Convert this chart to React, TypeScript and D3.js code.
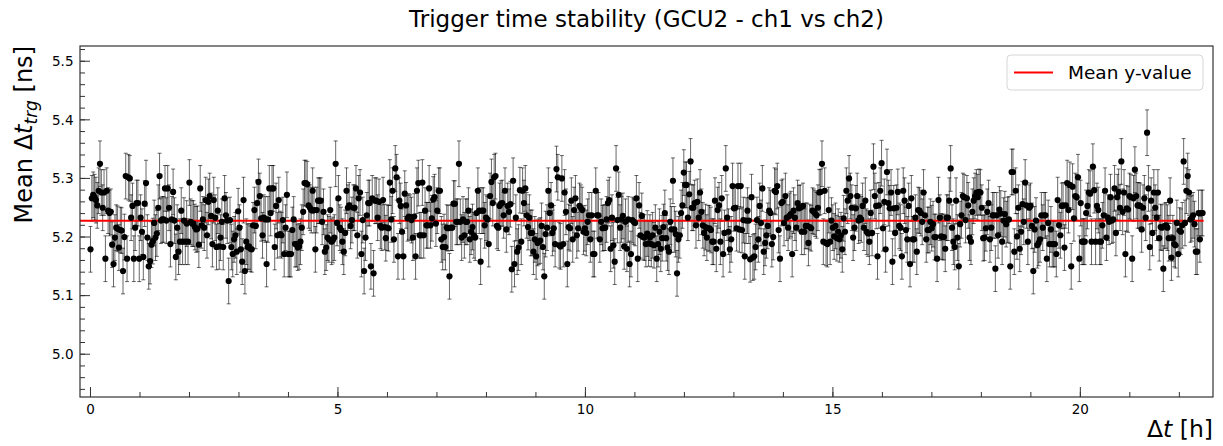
import React from "react";
import * as d3 from "d3";

// Mean trigger time difference per time slice (ns), in acquisition order.
const seg0 = [5.179, 5.266, 5.272, 5.268, 5.263, 5.254, 5.279, 5.325, 5.276, 5.250, 5.276, 5.163, 5.279, 5.245, 5.241, 5.243, 5.187, 5.154, 5.199, 5.216, 5.214, 5.182, 5.212, 5.211, 5.142, 5.200, 5.304, 5.163, 5.302, 5.300, 5.233, 5.253, 5.163, 5.216, 5.258, 5.258, 5.163, 5.233, 5.209, 5.166, 5.257, 5.292, 5.199, 5.150, 5.159, 5.187, 5.193, 5.224, 5.199, 5.206, 5.250, 5.304, 5.228, 5.230, 5.230, 5.283, 5.228, 5.283, 5.250, 5.188, 5.230, 5.277, 5.228, 5.166, 5.216, 5.175, 5.192, 5.245, 5.192, 5.228, 5.192, 5.223, 5.192, 5.293, 5.226, 5.223, 5.223, 5.217, 5.213, 5.214, 5.187, 5.283, 5.220, 5.230, 5.216, 5.263, 5.203, 5.260, 5.270, 5.236, 5.188, 5.263, 5.233, 5.183, 5.245, 5.184, 5.199, 5.226, 5.183, 5.266, 5.237, 5.228, 5.125, 5.229, 5.183, 5.171, 5.196, 5.203, 5.175, 5.244, 5.216];
const seg1 = [5.179, 5.158, 5.263, 5.142, 5.192, 5.183, 5.184, 5.180, 5.179, 5.220, 5.246, 5.219, 5.258, 5.294, 5.270, 5.232, 5.203, 5.233, 5.230, 5.154, 5.230, 5.283, 5.241, 5.283, 5.283, 5.183, 5.253, 5.203, 5.263, 5.205, 5.203, 5.229, 5.171, 5.216, 5.272, 5.171, 5.171, 5.171, 5.212, 5.230, 5.188, 5.188, 5.182, 5.184, 5.192, 5.216, 5.243, 5.292, 5.292, 5.290, 5.254, 5.250, 5.246, 5.279, 5.246, 5.179, 5.246, 5.262, 5.262, 5.262, 5.226, 5.243, 5.175, 5.182, 5.199, 5.196, 5.246, 5.192, 5.195, 5.199, 5.325, 5.224, 5.266, 5.216, 5.212, 5.192, 5.175, 5.207, 5.279, 5.250, 5.254, 5.219, 5.229, 5.250, 5.250, 5.283, 5.203, 5.266, 5.276, 5.171, 5.229, 5.142, 5.199, 5.237, 5.258, 5.258, 5.150, 5.266, 5.138, 5.262, 5.262, 5.233, 5.260, 5.219, 5.216, 5.263, 5.217, 5.198, 5.216, 5.215, 5.293, 5.230, 5.279, 5.196, 5.317, 5.302, 5.167, 5.262];
const seg2 = [5.253, 5.209, 5.167, 5.274, 5.254, 5.232, 5.235, 5.233, 5.229, 5.199, 5.235, 5.167, 5.279, 5.292, 5.203, 5.203, 5.293, 5.203, 5.245, 5.220, 5.220, 5.283, 5.220, 5.232, 5.264, 5.268, 5.223, 5.245, 5.279, 5.279, 5.196, 5.183, 5.200, 5.183, 5.216, 5.215, 5.133, 5.216, 5.216, 5.257, 5.257, 5.226, 5.226, 5.325, 5.226, 5.199, 5.230, 5.203, 5.226, 5.226, 5.245, 5.196, 5.209, 5.217, 5.203, 5.199, 5.241, 5.279, 5.245, 5.158, 5.245, 5.245, 5.220, 5.233, 5.230, 5.188, 5.270, 5.294, 5.258, 5.302, 5.304, 5.219, 5.216, 5.253, 5.257, 5.258, 5.237, 5.279, 5.213, 5.253, 5.243, 5.256, 5.145, 5.296, 5.154, 5.233, 5.175, 5.182, 5.280, 5.192, 5.279, 5.258, 5.283, 5.237, 5.217, 5.233, 5.207, 5.207, 5.175, 5.196, 5.167, 5.190, 5.192, 5.194, 5.219, 5.183, 5.133, 5.205, 5.216, 5.279, 5.241, 5.254, 5.207, 5.215, 5.188, 5.316, 5.302, 5.186, 5.184];
const seg3 = [5.300, 5.188, 5.276, 5.243, 5.154, 5.217, 5.215, 5.262, 5.196, 5.246, 5.266, 5.203, 5.215, 5.253, 5.250, 5.246, 5.209, 5.215, 5.207, 5.226, 5.237, 5.196, 5.237, 5.171, 5.171, 5.279, 5.237, 5.237, 5.196, 5.226, 5.215, 5.216, 5.216, 5.230, 5.258, 5.263, 5.180, 5.233, 5.186, 5.158, 5.317, 5.229, 5.272, 5.216, 5.230, 5.236, 5.184, 5.226, 5.180, 5.230, 5.154, 5.171, 5.229, 5.226, 5.224, 5.266, 5.163, 5.254, 5.203, 5.236, 5.200, 5.199, 5.188, 5.206, 5.189, 5.199, 5.188, 5.203, 5.186, 5.216, 5.163, 5.188, 5.209, 5.180, 5.198, 5.217, 5.241, 5.198, 5.182, 5.175, 5.226, 5.213, 5.296, 5.213, 5.205, 5.138, 5.196, 5.203, 5.241, 5.254, 5.310, 5.289, 5.289, 5.233, 5.273, 5.329, 5.250, 5.250, 5.258, 5.220, 5.260, 5.233, 5.276, 5.243, 5.220, 5.207, 5.217, 5.199, 5.215, 5.215, 5.212, 5.192, 5.192, 5.262, 5.180, 5.246, 5.254, 5.192, 5.266, 5.171];
const seg4 = [5.207, 5.317, 5.233, 5.209, 5.179, 5.196, 5.287, 5.249, 5.250, 5.215, 5.287, 5.213, 5.287, 5.212, 5.229, 5.167, 5.228, 5.245, 5.228, 5.162, 5.268, 5.165, 5.167, 5.183, 5.229, 5.196, 5.253, 5.224, 5.283, 5.175, 5.190, 5.203, 5.219, 5.245, 5.241, 5.188, 5.200, 5.279, 5.277, 5.287, 5.212, 5.163, 5.258, 5.260, 5.224, 5.270, 5.233, 5.216, 5.236, 5.239, 5.171, 5.245, 5.233, 5.216, 5.258, 5.249, 5.250, 5.209, 5.253, 5.209, 5.219, 5.219, 5.190, 5.217, 5.215, 5.245, 5.243, 5.240, 5.237, 5.250, 5.276, 5.277, 5.325, 5.192, 5.279, 5.190, 5.188, 5.246, 5.192, 5.228, 5.216, 5.201, 5.219, 5.198, 5.209, 5.196, 5.203, 5.179, 5.232, 5.209, 5.279, 5.262, 5.300, 5.270, 5.250, 5.199, 5.216, 5.249, 5.270, 5.228, 5.233, 5.230, 5.253, 5.216, 5.262, 5.209, 5.206, 5.192, 5.241, 5.207, 5.320, 5.270, 5.253, 5.167, 5.254, 5.279, 5.326, 5.215, 5.260, 5.179];
const seg5 = [5.311, 5.258, 5.249, 5.276, 5.158, 5.249, 5.207, 5.250, 5.277, 5.219, 5.216, 5.167, 5.279, 5.262, 5.212, 5.196, 5.253, 5.154, 5.266, 5.196, 5.196, 5.233, 5.175, 5.246, 5.245, 5.241, 5.226, 5.276, 5.237, 5.196, 5.212, 5.212, 5.226, 5.215, 5.222, 5.200, 5.200, 5.163, 5.263, 5.233, 5.201, 5.200, 5.200, 5.180, 5.233, 5.233, 5.262, 5.317, 5.216, 5.192, 5.183, 5.262, 5.199, 5.150, 5.222, 5.237, 5.270, 5.268, 5.229, 5.266, 5.254, 5.199, 5.192, 5.243, 5.262, 5.270, 5.276, 5.268, 5.277, 5.276, 5.250, 5.198, 5.199, 5.215, 5.243, 5.258, 5.196, 5.216, 5.237, 5.237, 5.146, 5.237, 5.203, 5.247, 5.240, 5.192, 5.228, 5.239, 5.222, 5.229, 5.230, 5.150, 5.311, 5.311, 5.175, 5.279, 5.201, 5.250, 5.180, 5.209, 5.256, 5.226, 5.293, 5.254, 5.192, 5.250, 5.253, 5.219, 5.142, 5.213, 5.228, 5.186, 5.190, 5.196, 5.237, 5.216, 5.237, 5.237];
const seg6 = [5.163, 5.224, 5.188, 5.213, 5.188, 5.188, 5.188, 5.171, 5.263, 5.220, 5.203, 5.253, 5.254, 5.182, 5.254, 5.292, 5.246, 5.289, 5.150, 5.286, 5.232, 5.270, 5.268, 5.302, 5.163, 5.258, 5.192, 5.192, 5.192, 5.241, 5.253, 5.276, 5.274, 5.192, 5.320, 5.280, 5.192, 5.253, 5.246, 5.192, 5.192, 5.220, 5.237, 5.279, 5.199, 5.233, 5.226, 5.268, 5.228, 5.230, 5.283, 5.207, 5.268, 5.277, 5.250, 5.329, 5.243, 5.276, 5.171, 5.249, 5.247, 5.270, 5.268, 5.163, 5.266, 5.315, 5.270, 5.254, 5.254, 5.253, 5.213, 5.250, 5.266, 5.233, 5.378, 5.283, 5.183, 5.262, 5.207, 5.276, 5.250, 5.233, 5.276, 5.198, 5.217, 5.216, 5.146, 5.219, 5.220, 5.216, 5.198, 5.262, 5.165, 5.198, 5.188, 5.186, 5.224, 5.171, 5.211, 5.209, 5.220, 5.329, 5.224, 5.279, 5.304, 5.276, 5.230, 5.232, 5.237, 5.222, 5.175, 5.175, 5.241, 5.196, 5.241, 5.241];

// Statistical uncertainty on each mean (ns) and the time of the last slice (h).
const MEAN_ERR = 0.039;
const LAST_TIME_H = 22.47;

const yTicks = [5.0, 5.1, 5.2, 5.3, 5.4, 5.5];
const xTicks = [0, 5, 10, 15, 20];
const xMinorTicks = d3.range(0, 23, 1);
const yMinorTicks = d3.range(4.94, 5.521, 0.02);

const TITLE = "Trigger time stability (GCU2 - ch1 vs ch2)";
const LEGEND_LABEL = "Mean y-value";

const W = 1223;
const H = 446;
const M = { left: 80, right: 1213, top: 46, bottom: 397 };
const FONT = "DejaVu Sans, sans-serif";

export default function App() {
  const values = [...seg0, ...seg1, ...seg2, ...seg3, ...seg4, ...seg5, ...seg6];
  const step = LAST_TIME_H / (values.length - 1);
  const data = values.map((v, i) => ({ t: i * step, v }));
  const mean = d3.mean(values) as number;

  const x = d3.scaleLinear().domain([-0.212, 22.68]).range([M.left, M.right]);
  const y = d3.scaleLinear().domain([4.927, 5.526]).range([M.bottom, M.top]);

  const majorLen = 10;
  const minorLen = 5;
  const tickColor = "#333";

  return (
    <svg
      width={W}
      height={H}
      style={{ position: "absolute", left: 0, top: 0, background: "#fff" }}
      fontFamily={FONT}
    >
      <rect x={0} y={0} width={W} height={H} fill="#fff" />
      <text x={(M.left + M.right) / 2} y={27} textAnchor="middle" fontSize={23} fill="#000">
        {TITLE}
      </text>

      {/* error bars */}
      <g stroke="#000" strokeWidth={0.7} strokeOpacity={0.85}>
        {data.map((d, i) => {
          const cx = x(d.t);
          const y0 = y(d.v - MEAN_ERR);
          const y1 = y(d.v + MEAN_ERR);
          return (
            <g key={i}>
              <line x1={cx} x2={cx} y1={y0} y2={y1} />
              <line x1={cx - 2} x2={cx + 2} y1={y0} y2={y0} />
              <line x1={cx - 2} x2={cx + 2} y1={y1} y2={y1} />
            </g>
          );
        })}
      </g>

      {/* mean line */}
      <line
        x1={M.left}
        x2={x(LAST_TIME_H) + 1}
        y1={y(mean)}
        y2={y(mean)}
        stroke="#ff0000"
        strokeWidth={2}
      />

      {/* markers */}
      <g fill="#000">
        {data.map((d, i) => (
          <circle key={i} cx={x(d.t)} cy={y(d.v)} r={3.1} />
        ))}
      </g>

      {/* ticks */}
      <g stroke={tickColor} strokeWidth={1}>
        {yTicks.map((t) => (
          <line key={"ym" + t} x1={M.left} x2={M.left + majorLen} y1={y(t)} y2={y(t)} />
        ))}
        {yMinorTicks.map((t, i) => (
          <line key={"yn" + i} x1={M.left} x2={M.left + minorLen} y1={y(t)} y2={y(t)} />
        ))}
        {xTicks.map((t) => (
          <line key={"xm" + t} x1={x(t)} x2={x(t)} y1={M.bottom} y2={M.bottom - majorLen} />
        ))}
        {xMinorTicks.map((t) => (
          <line key={"xn" + t} x1={x(t)} x2={x(t)} y1={M.bottom} y2={M.bottom - minorLen} />
        ))}
      </g>

      {/* frame */}
      <rect
        x={M.left}
        y={M.top}
        width={M.right - M.left}
        height={M.bottom - M.top}
        fill="none"
        stroke="#333"
        strokeWidth={1.2}
      />

      {/* tick labels */}
      <g fontSize={13.5} fill="#000">
        {yTicks.map((t) => (
          <text key={"yl" + t} x={M.left - 6.5} y={y(t)} dy="0.36em" textAnchor="end">
            {d3.format(".1f")(t)}
          </text>
        ))}
        {xTicks.map((t) => (
          <text key={"xl" + t} x={x(t)} y={413.5} textAnchor="middle">
            {t}
          </text>
        ))}
      </g>

      {/* axis labels */}
      <text transform={`translate(32,${M.top}) rotate(-90)`} textAnchor="end" fontSize={24} fill="#000">
        Mean Δ<tspan fontStyle="italic">t</tspan>
        <tspan fontStyle="italic" fontSize={17} dy={5}>trg</tspan>
        <tspan dy={-5}> [ns]</tspan>
      </text>
      <text x={M.right} y={437} textAnchor="end" fontSize={23.5} fill="#000">
        Δ<tspan fontStyle="italic">t</tspan> [h]
      </text>

      {/* legend */}
      <g>
        <rect x={1007} y={55} width={196} height={35} rx={4} fill="#fff" fillOpacity={0.8} stroke="#d6d6d6" />
        <line x1={1014} x2={1053} y1={72.5} y2={72.5} stroke="#ff0000" strokeWidth={2} />
        <text x={1068} y={78.5} fontSize={18.5} fill="#000">
          {LEGEND_LABEL}
        </text>
      </g>
    </svg>
  );
}
